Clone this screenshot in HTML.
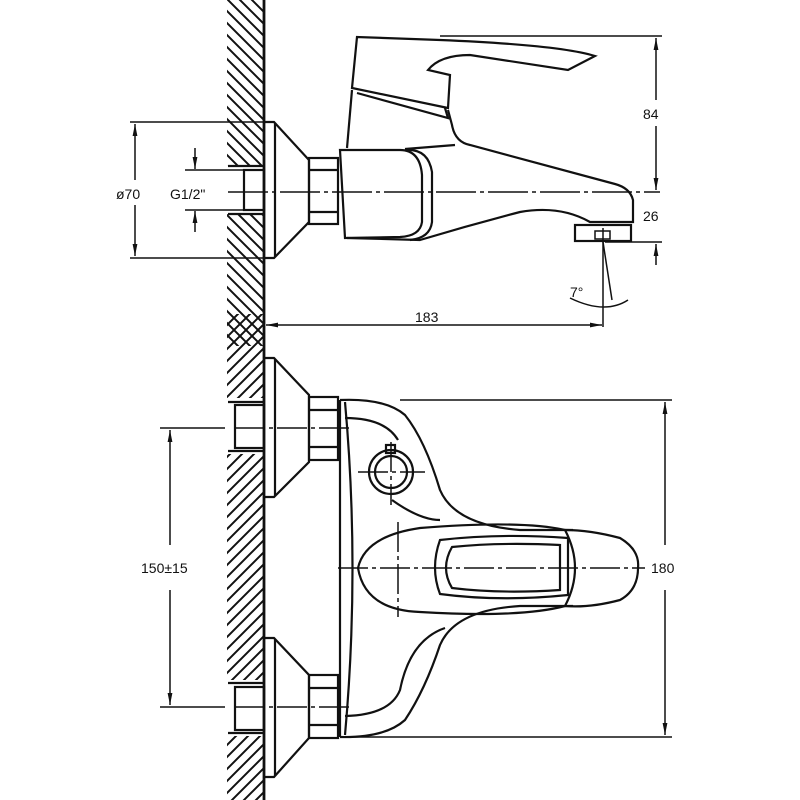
<!DOCTYPE html>
<html><head><meta charset="utf-8"><style>
html,body{margin:0;padding:0;background:#fff}
svg{display:block}
text{font-family:"Liberation Sans",sans-serif;font-size:14px;fill:#111}
</style></head><body>
<svg width="800" height="800" viewBox="0 0 800 800" xmlns="http://www.w3.org/2000/svg">
<defs>
<pattern id="hb" width="12" height="12" patternUnits="userSpaceOnUse">
<path d="M-1,-1 L13,13 M-1,11 L1,13 M11,-1 L13,1" stroke="#111" stroke-width="2"/></pattern>
<pattern id="hf" width="12" height="12" patternUnits="userSpaceOnUse">
<path d="M-1,13 L13,-1 M-1,1 L1,-1 M11,13 L13,11" stroke="#111" stroke-width="2"/></pattern>
<marker id="ar" viewBox="0 0 10 10" refX="10" refY="5" markerWidth="8" markerHeight="8" orient="auto-start-reverse">
<path d="M0,3 L10,5 L0,7 z" fill="#111"/></marker>
</defs>
<!-- wall hatching -->
<rect x="227" y="0" width="37" height="346" fill="url(#hb)"/>
<rect x="227" y="314" width="37" height="486" fill="url(#hf)"/>
<!-- gaps for pipes -->
<rect x="226" y="166" width="38" height="48" fill="#fff"/>
<rect x="226" y="398" width="38" height="56" fill="#fff"/>
<rect x="226" y="680" width="38" height="56" fill="#fff"/>
<g stroke="#111" stroke-width="2.2" fill="none">
<line x1="264" y1="0" x2="264" y2="800" stroke-width="2.8"/>
<!-- TOP VIEW -->
<rect x="244" y="170" width="20" height="40"/>
<line x1="228" y1="166" x2="264" y2="166"/><line x1="228" y1="214" x2="264" y2="214"/>
<path d="M264,122 H274 L309,160 V222 L274,258 H264"/>
<line x1="275" y1="123" x2="275" y2="257"/>
<rect x="309" y="158" width="29" height="66"/>
<line x1="309" y1="170" x2="338" y2="170"/><line x1="309" y1="212" x2="338" y2="212"/>
<!-- body -->
<path d="M340,150 H400 Q420,150 422,175 V222 Q420,236 400,237 L345,238 Z"/>
<path d="M405,150 Q428,148 432,172 V222 Q430,238 410,240"/>
<path d="M347,238 L420,240 Q470,225 520,212 Q560,205 590,222 H633 V200 Q630,188 615,184 L470,145 Q455,142 452,125 L448,110"/>
<path d="M405,149 L455,145"/>
<!-- handle -->
<path d="M357,37 L352,88 L448,108 L450,75 L428,70 Q440,55 470,55 L568,70 L595,56 Q560,45 440,40 Z"/>
<path d="M352,90 L347,148"/>
<path d="M357,93 L448,118 L445,108"/>
<!-- aerator -->
<rect x="575" y="225" width="56" height="16"/>
<rect x="595" y="231" width="15" height="8" stroke-width="1.5"/>
<line x1="603" y1="228" x2="603" y2="327" stroke-width="1.5"/>
<line x1="603" y1="242" x2="612" y2="300" stroke-width="1.5"/>
<path d="M570,298 Q605,315 628,300" stroke-width="1.5"/>
<!-- centerline -->
<line x1="228" y1="192" x2="660" y2="192" stroke-width="1.5" stroke-dasharray="40,4,4,4"/>
<!-- dims top -->
<g stroke-width="1.5">
<line x1="130" y1="122" x2="264" y2="122"/><line x1="130" y1="258" x2="264" y2="258"/>
<line x1="135" y1="124" x2="135" y2="180" marker-start="url(#ar)"/>
<line x1="135" y1="205" x2="135" y2="256" marker-end="url(#ar)"/>
<line x1="185" y1="170" x2="244" y2="170"/><line x1="185" y1="210" x2="244" y2="210"/>
<line x1="195" y1="148" x2="195" y2="169" marker-end="url(#ar)"/>
<line x1="195" y1="232" x2="195" y2="211" marker-end="url(#ar)"/>
<line x1="440" y1="36" x2="662" y2="36"/>
<line x1="656" y1="38" x2="656" y2="100" marker-start="url(#ar)"/>
<line x1="656" y1="125" x2="656" y2="190" marker-end="url(#ar)"/>
<line x1="605" y1="242" x2="662" y2="242"/>
<line x1="656" y1="265" x2="656" y2="244" marker-end="url(#ar)"/>
<line x1="266" y1="325" x2="602" y2="325" marker-start="url(#ar)" marker-end="url(#ar)"/>
</g>
<!-- BOTTOM VIEW -->
<rect x="235" y="405" width="29" height="43"/>
<line x1="228" y1="402" x2="264" y2="402"/><line x1="228" y1="451" x2="264" y2="451"/>
<path d="M264,358 H274 L309,395 V462 L274,497 H264"/>
<line x1="275" y1="359" x2="275" y2="496"/>
<rect x="309" y="397" width="29" height="63"/>
<line x1="309" y1="410" x2="338" y2="410"/><line x1="309" y1="447" x2="338" y2="447"/>
<rect x="235" y="687" width="29" height="43"/>
<line x1="228" y1="683" x2="264" y2="683"/><line x1="228" y1="733" x2="264" y2="733"/>
<path d="M264,638 H274 L309,675 V738 L274,777 H264"/>
<line x1="275" y1="639" x2="275" y2="776"/>
<rect x="309" y="675" width="29" height="63"/>
<line x1="309" y1="688" x2="338" y2="688"/><line x1="309" y1="725" x2="338" y2="725"/>
<!-- plate -->
<line x1="340" y1="400" x2="340" y2="737"/>
<path d="M345,402 Q360,568 345,735"/>
<!-- body outline -->
<path d="M340,400 Q385,398 405,415 Q425,440 440,490 Q455,525 520,530 L573,530"/>
<path d="M345,418 Q385,418 398,440"/>
<path d="M392,500 Q420,520 440,520"/>
<path d="M340,737 Q385,738 405,720 Q425,690 440,645 Q455,610 520,606 L573,606"/>
<path d="M345,716 Q390,715 400,690 Q410,640 445,628"/>
<!-- knob -->
<circle cx="391" cy="472" r="22"/><circle cx="391" cy="472" r="16"/>
<rect x="386" y="445" width="9" height="8"/>
<!-- handle lever -->
<path d="M565,530 Q520,520 420,528 Q365,536 358,568 Q365,610 420,612 Q520,618 565,606"/>
<path d="M565,530 Q590,530 620,538 Q640,550 638,568 Q638,590 620,600 Q590,608 565,606"/>
<path d="M565,530 Q585,568 565,606"/>
<path d="M440,540 Q500,533 568,538 V595 Q500,602 440,594 Q430,568 440,540 Z"/>
<path d="M452,547 Q500,542 560,545 V590 Q500,594 452,588 Q440,568 452,547 Z"/>
<!-- centerlines -->
<g stroke-width="1.5" stroke-dasharray="30,4,4,4">
<line x1="235" y1="428" x2="353" y2="428"/>
<line x1="235" y1="707" x2="350" y2="707"/>
<line x1="338" y1="568" x2="645" y2="568"/>
<line x1="398" y1="522" x2="398" y2="617"/>
<line x1="358" y1="472" x2="425" y2="472"/>
<line x1="391" y1="442" x2="391" y2="505"/>
</g>
<g stroke-width="1.5">
<line x1="160" y1="428" x2="225" y2="428"/><line x1="160" y1="707" x2="225" y2="707"/>
<line x1="170" y1="430" x2="170" y2="545" marker-start="url(#ar)"/>
<line x1="170" y1="590" x2="170" y2="705" marker-end="url(#ar)"/>
<line x1="400" y1="400" x2="672" y2="400"/><line x1="345" y1="737" x2="672" y2="737"/>
<line x1="665" y1="402" x2="665" y2="545" marker-start="url(#ar)"/>
<line x1="665" y1="590" x2="665" y2="735" marker-end="url(#ar)"/>
</g>
</g>
<rect x="642" y="100" width="30" height="26" fill="#fff"/>
<text x="643" y="119">84</text>
<text x="643" y="221">26</text>
<text x="116" y="199">ø70</text>
<text x="170" y="199">G1/2"</text>
<text x="415" y="322">183</text>
<text x="570" y="297" font-size="13">7°</text>
<rect x="140" y="555" width="60" height="26" fill="#fff"/>
<text x="141" y="573">150±15</text>
<rect x="650" y="555" width="32" height="26" fill="#fff"/>
<text x="651" y="573">180</text>
</svg>
</body></html>
